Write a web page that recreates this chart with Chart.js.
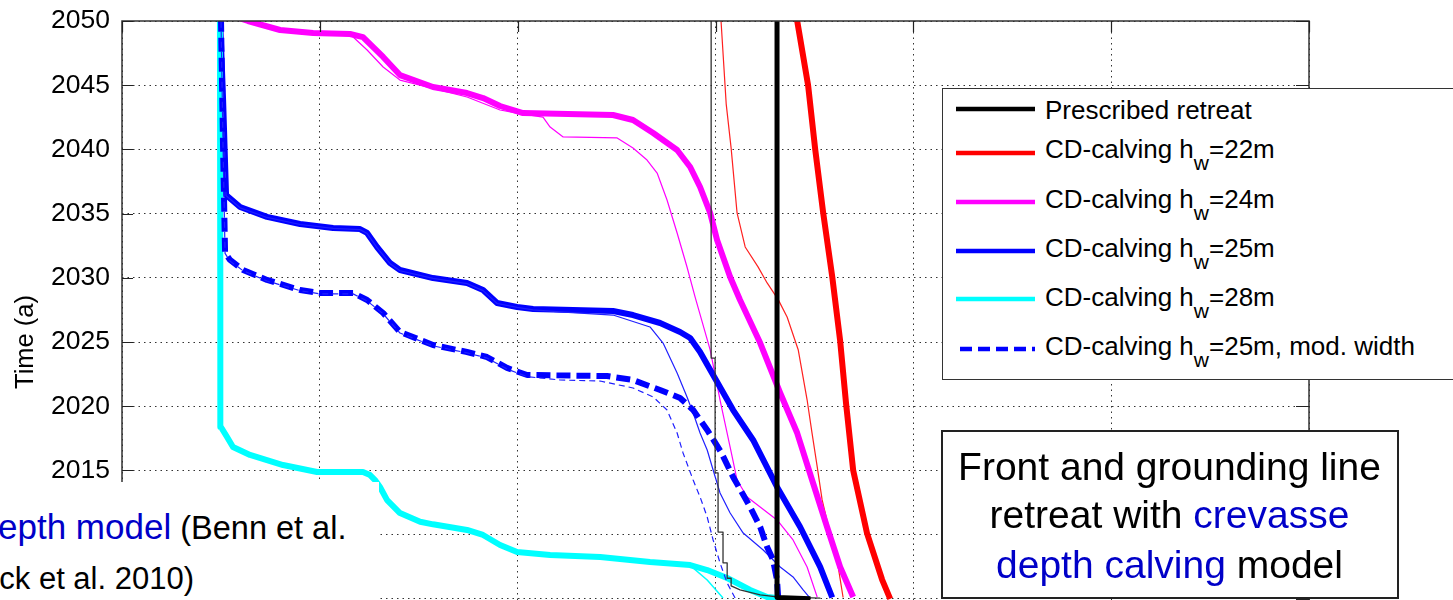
<!DOCTYPE html>
<html>
<head>
<meta charset="utf-8">
<script src="https://cdn.jsdelivr.net/npm/chart.js@4.4.0/dist/chart.umd.min.js"></script>
<style>
  html, body { margin:0; padding:0; background:#fff; }
  #wrap { position:relative; width:1453px; height:600px; overflow:hidden; background:#fff;
          font-family:'Liberation Sans', Arial, Helvetica, sans-serif; }
  #c { position:absolute; left:0; top:0; }
  .box { position:absolute; background:#fff; box-sizing:border-box; }
  .t { position:absolute; white-space:nowrap; color:#000; }
  .lg { font-size:26px; line-height:26px; left:1045px; }
  .lg sub { font-size:21px; vertical-align:-12px; line-height:0; }
  .note { font-size:39px; line-height:39px; left:941px; width:457px; text-align:center; }
  .bl { color:#0000c8; }
</style>
</head>
<body>
<div id="wrap">
  <canvas id="c" width="1453" height="700"></canvas>

  <!-- lower-left slide text box -->
  <div class="box" style="left:0;top:482px;width:379px;height:118px;"></div>
  <div class="t" style="left:-179px;top:511px;font-size:32.5px;line-height:32.5px;"><span class="bl" style="font-size:35px;">Crevasse depth model</span> (Benn et al.</div>
  <div class="t" style="left:-30px;top:563px;font-size:31px;line-height:31px;">Nick et al. 2010)</div>

  <!-- legend -->
  <div class="box" style="left:942px;top:88px;width:530px;height:292px;border:1.5px solid #333;"></div>
  <svg style="position:absolute;left:0;top:0;" width="1453" height="600">
    <line x1="956" x2="1035" y1="109" y2="109" stroke="#000" stroke-width="4.5"/>
    <line x1="956" x2="1035" y1="153" y2="153" stroke="#ff0000" stroke-width="4.5"/>
    <line x1="956" x2="1035" y1="202" y2="202" stroke="#ff00ff" stroke-width="4.5"/>
    <line x1="956" x2="1035" y1="251" y2="251" stroke="#0000ff" stroke-width="4.5"/>
    <line x1="956" x2="1035" y1="299" y2="299" stroke="#00ffff" stroke-width="4.5"/>
    <line x1="960" x2="1035" y1="349" y2="349" stroke="#0000ff" stroke-width="4.5" stroke-dasharray="12 6"/>
  </svg>
  <div class="t lg" style="top:97px;">Prescribed retreat</div>
  <div class="t lg" style="top:136px;">CD-calving h<sub>w</sub>=22m</div>
  <div class="t lg" style="top:186px;">CD-calving h<sub>w</sub>=24m</div>
  <div class="t lg" style="top:235px;">CD-calving h<sub>w</sub>=25m</div>
  <div class="t lg" style="top:284px;">CD-calving h<sub>w</sub>=28m</div>
  <div class="t lg" style="top:333px;">CD-calving h<sub>w</sub>=25m, mod. width</div>

  <!-- annotation box -->
  <div class="box" style="left:941px;top:430px;width:458px;height:169px;border:2px solid #222;"></div>
  <div class="t note" style="top:447px;">Front and grounding line</div>
  <div class="t note" style="top:495px;">retreat with <span class="bl">crevasse</span></div>
  <div class="t note" style="top:545px;"><span class="bl">depth calving</span> model</div>
</div>

<script>
// ---------- data (x: distance units, y: time in years) ----------
const yTicksShown = [2015, 2020, 2025, 2030, 2035, 2040, 2045, 2050];

const blackThickX = [34.8, 33.11, 33.11];
const blackThickY = [2005.0, 2005.1, 2051];

const blackThinX = [35.3, 33.11, 32.26, 31.24, 30.79, 30.79, 30.59, 30.59, 30.38, 30.38, 30.13, 30.13, 29.98, 29.98, 29.78, 29.78];
const blackThinY = [2005.05, 2005.15, 2005.3, 2005.7, 2006.0, 2006.6, 2006.6, 2007.8, 2007.8, 2010.2, 2010.2, 2014.8, 2014.8, 2023.75, 2023.75, 2051];

const redThickX = [38.83, 38.42, 37.66, 36.96, 36.6, 36.3, 35.9, 35.44, 35.04, 34.68, 34.13, 33.92];
const redThickY = [2005.0, 2006.5, 2010.1, 2015.0, 2020.2, 2025.1, 2030.1, 2035.1, 2040.0, 2045.0, 2050.0, 2051.0];

const redThinX = [36.45, 36.2, 35.79, 35.39, 35.14, 34.88, 34.63, 34.18, 33.62, 33.17, 32.61, 32.15, 31.5, 31.09, 30.79, 30.54, 30.28, 30.2];
const redThinY = [2005.1, 2007.5, 2010.1, 2012.7, 2015.3, 2017.9, 2020.5, 2024.4, 2026.95, 2028.3, 2029.6, 2030.85, 2032.4, 2035.05, 2040.1, 2043.55, 2050.0, 2051];

const magThickX = [36.96, 36.3, 35.64, 34.93, 34.13, 33.27, 32.26, 31.24, 30.74, 30.08, 29.73, 29.22, 28.72, 28.06, 26.85, 25.83, 24.82, 20.27, 19.11, 18.25, 17.44, 15.72, 14.05, 13.2, 12.18, 11.53, 9.66, 7.99, 6.37, 5.4];
const magThickY = [2005.14, 2007.48, 2010.59, 2014.02, 2017.91, 2021.03, 2024.92, 2028.27, 2030.06, 2032.94, 2035.05, 2037.07, 2038.63, 2039.95, 2041.28, 2042.29, 2042.68, 2042.83, 2043.38, 2044.0, 2044.39, 2044.86, 2045.79, 2047.2, 2048.75, 2048.99, 2049.07, 2049.3, 2050.0, 2050.5];

const magThinX = [35.14, 34.63, 33.92, 33.11, 31.6, 31.09, 30.74, 30.23, 29.73, 28.97, 28.56, 28.06, 27.55, 27.05, 26.54, 25.83, 25.03, 22.3, 21.64, 21.28, 19.97, 19.11, 17.44, 14.05, 13.2, 12.39, 11.63, 9.66, 7.99, 6.37, 5.4];
const magThinY = [2005.14, 2007.48, 2009.58, 2011.14, 2012.93, 2014.25, 2016.82, 2020.48, 2024.38, 2028.5, 2030.84, 2033.49, 2036.06, 2038.16, 2039.17, 2040.11, 2040.89, 2040.97, 2041.74, 2042.52, 2042.83, 2043.07, 2044.08, 2045.4, 2046.42, 2047.74, 2048.83, 2048.99, 2049.22, 2050.0, 2050.5];

const blueThickX = [35.9, 35.29, 34.28, 33.11, 31.9, 30.89, 29.88, 29.22, 28.72, 28.21, 27.2, 25.83, 24.82, 20.78, 19.97, 18.96, 18.25, 17.44, 15.72, 14.05, 13.55, 12.89, 12.39, 12.03, 10.67, 9.0, 7.33, 5.97, 5.26, 5.11, 4.95];
const blueThickY = [2005.1, 2007.48, 2010.59, 2013.71, 2017.37, 2019.7, 2022.43, 2024.22, 2025.31, 2025.78, 2026.48, 2027.1, 2027.41, 2027.57, 2027.73, 2028.04, 2029.05, 2029.6, 2029.98, 2030.61, 2031.15, 2032.4, 2033.49, 2033.8, 2033.88, 2034.19, 2034.74, 2035.51, 2036.45, 2043.85, 2050.5];

const blueThinX = [34.78, 34.43, 33.92, 33.27, 32.41, 31.4, 30.74, 30.23, 29.88, 29.58, 29.22, 28.87, 28.56, 28.06, 27.35, 26.69, 24.82, 22.14, 20.78, 19.97, 18.96, 18.25, 17.44, 15.72, 14.05, 13.55, 12.89, 12.39, 12.03, 10.67, 9.0, 7.33, 5.97, 5.26, 5.11, 4.95];
const blueThinY = [2005.06, 2005.69, 2006.7, 2007.48, 2008.8, 2010.12, 2011.68, 2013.24, 2015.03, 2016.59, 2017.91, 2019.47, 2020.72, 2022.59, 2024.92, 2026.17, 2027.1, 2027.34, 2027.5, 2027.7, 2028.0, 2029.0, 2029.55, 2029.95, 2030.55, 2031.1, 2032.35, 2033.45, 2033.75, 2033.85, 2034.15, 2034.7, 2035.45, 2036.4, 2043.8, 2050.5];

const dashThickX = [33.17, 33.11, 32.91, 32.61, 32.26, 31.75, 30.89, 30.28, 29.58, 28.87, 28.21, 27.2, 25.83, 24.52, 20.48, 19.46, 18.45, 17.44, 15.72, 14.05, 13.2, 12.39, 11.68, 10.01, 9.0, 7.33, 6.12, 5.46, 5.21, 5.11, 5.0];
const dashThickY = [2005.06, 2006.46, 2008.02, 2009.03, 2010.59, 2012.15, 2014.49, 2016.43, 2018.15, 2019.7, 2020.64, 2021.26, 2022.04, 2022.35, 2022.43, 2022.98, 2023.83, 2024.22, 2024.77, 2025.78, 2027.26, 2028.27, 2028.82, 2028.82, 2029.05, 2029.83, 2030.61, 2031.39, 2031.93, 2040.0, 2050.5];

const dashThinX = [30.99, 30.59, 30.23, 29.88, 29.58, 29.22, 28.87, 28.36, 28.06, 27.55, 26.85, 25.83, 24.17, 22.14, 20.48, 19.46, 18.45, 17.44, 15.72, 14.05, 13.2, 12.39, 11.68, 10.01, 9.0, 7.33, 6.12, 5.46, 5.21, 5.11, 5.0];
const dashThinY = [2005.06, 2006.23, 2007.79, 2009.58, 2011.37, 2012.93, 2014.25, 2016.36, 2017.91, 2019.7, 2020.72, 2021.42, 2021.96, 2022.04, 2022.3, 2022.9, 2023.75, 2024.15, 2024.7, 2025.7, 2027.2, 2028.2, 2028.75, 2028.75, 2029.0, 2029.75, 2030.55, 2031.3, 2031.9, 2040.0, 2050.5];

const cyanThickX = [33.11, 32.61, 31.75, 30.59, 29.58, 28.72, 26.69, 24.17, 21.64, 19.97, 19.11, 18.25, 17.44, 15.72, 15.07, 14.05, 13.4, 13.04, 12.79, 12.54, 12.18, 9.86, 8.14, 6.47, 5.61, 5.31, 5.0, 4.97, 4.95];
const cyanThickY = [2005.06, 2005.14, 2005.69, 2006.62, 2007.24, 2007.63, 2007.87, 2008.26, 2008.41, 2008.64, 2009.19, 2009.97, 2010.36, 2010.8, 2011.0, 2011.68, 2012.69, 2013.71, 2014.25, 2014.64, 2014.88, 2014.88, 2015.42, 2016.2, 2016.82, 2017.6, 2018.38, 2030.0, 2050.5];

const cyanThinX = [30.38, 29.58, 28.72, 26.69, 24.17, 21.64, 19.97, 19.11, 18.25, 17.44, 15.72, 15.07, 14.05, 13.4, 13.04, 12.79, 12.54, 12.18, 9.86, 8.14, 6.47, 5.61, 5.31, 5.0, 4.9, 4.88];
const cyanThinY = [2005.06, 2006.46, 2007.6, 2007.85, 2008.24, 2008.4, 2008.62, 2009.17, 2009.95, 2010.34, 2010.78, 2011.0, 2011.66, 2012.67, 2013.69, 2014.23, 2014.62, 2014.86, 2014.86, 2015.4, 2016.18, 2016.8, 2017.58, 2018.36, 2030.0, 2050.5];

// ---------- chart ----------
Chart.defaults.font.family = "'Liberation Sans', Arial, Helvetica, sans-serif";
Chart.defaults.color = '#000';

function pts(xs, ys) { return xs.map((x, i) => ({ x: x, y: ys[i] })); }
function ds(xs, ys, color, width, order, dash) {
  return { data: pts(xs, ys), borderColor: color, borderWidth: width, order: order,
           borderDash: dash || [], pointRadius: 0, tension: 0, fill: false, clip: 0,
           borderCapStyle: 'butt', borderJoinStyle: 'round' };
}

const frame = {
  id: 'frame',
  afterDatasetsDraw(chart) {
    const { ctx, chartArea: a, scales: { x, y } } = chart;
    ctx.save();
    ctx.setLineDash([]);
    ctx.strokeStyle = '#333';
    ctx.lineWidth = 1.5;
    ctx.strokeRect(a.left, a.top, a.right - a.left, a.bottom - a.top);
    ctx.lineWidth = 1.2;
    ctx.strokeStyle = '#222';
    ctx.beginPath();
    y.ticks.forEach(t => {
      const p = Math.round(y.getPixelForValue(t.value)) + 0.5;
      ctx.moveTo(a.left, p); ctx.lineTo(a.left + 11, p);
      ctx.moveTo(a.right - 13, p); ctx.lineTo(a.right, p);
    });
    x.ticks.forEach(t => {
      const p = Math.round(x.getPixelForValue(t.value)) + 0.5;
      ctx.moveTo(p, a.top); ctx.lineTo(p, a.top + 11);
      ctx.moveTo(p, a.bottom); ctx.lineTo(p, a.bottom - 11);
    });
    ctx.stroke();
    ctx.restore();
  }
};

const gridOpts = { color: '#333', lineWidth: 1, drawTicks: false, borderDash: [1.5, 4] };
const borderOpts = { display: false, dash: [1.5, 4] };

new Chart(document.getElementById('c').getContext('2d'), {
  type: 'line',
  data: {
    datasets: [
      ds(blackThickX, blackThickY, '#000000', 5, 0),
      ds(blackThinX, blackThinY, '#333333', 1.3, 1),
      ds(dashThinX, dashThinY, '#2020ff', 1.2, 2, [6, 4]),
      ds(dashThickX, dashThickY, '#0000ff', 6, 3, [14, 6]),
      ds(cyanThinX, cyanThinY, '#00ffff', 1.5, 4),
      ds(cyanThickX, cyanThickY, '#00ffff', 6, 5),
      ds(blueThinX, blueThinY, '#2020ff', 1.2, 6),
      ds(blueThickX, blueThickY, '#0000ff', 6, 7),
      ds(magThinX, magThinY, '#ff00ff', 1.2, 8),
      ds(magThickX, magThickY, '#ff00ff', 6, 9),
      ds(redThinX, redThinY, '#ff2020', 1.2, 10),
      ds(redThickX, redThickY, '#ff0000', 6, 11)
    ]
  },
  options: {
    responsive: false,
    animation: false,
    devicePixelRatio: 1,
    layout: { padding: { left: 0, top: 21, right: 144, bottom: 0 } },
    plugins: { legend: { display: false }, tooltip: { enabled: false } },
    scales: {
      x: {
        type: 'linear', min: 0, max: 60,
        ticks: { display: false, stepSize: 10 },
        grid: gridOpts, border: borderOpts,
        afterFit(s) { s.height = 37; s.paddingLeft = 0; s.paddingRight = 0; }
      },
      y: {
        type: 'linear', min: 2000, max: 2050,
        ticks: { stepSize: 5, padding: 12, color: '#000', font: { size: 26.5 },
                 callback: v => (yTicksShown.includes(v) ? String(v) : '') },
        grid: gridOpts, border: borderOpts,
        title: { display: true, text: 'Time (a)', color: '#000', font: { size: 25.5 },
                 padding: { top: 11, bottom: 0 } },
        afterFit(s) { s.width = 122; s.paddingTop = 0; s.paddingBottom = 0; }
      }
    }
  },
  plugins: [frame]
});
</script>
</body>
</html>
